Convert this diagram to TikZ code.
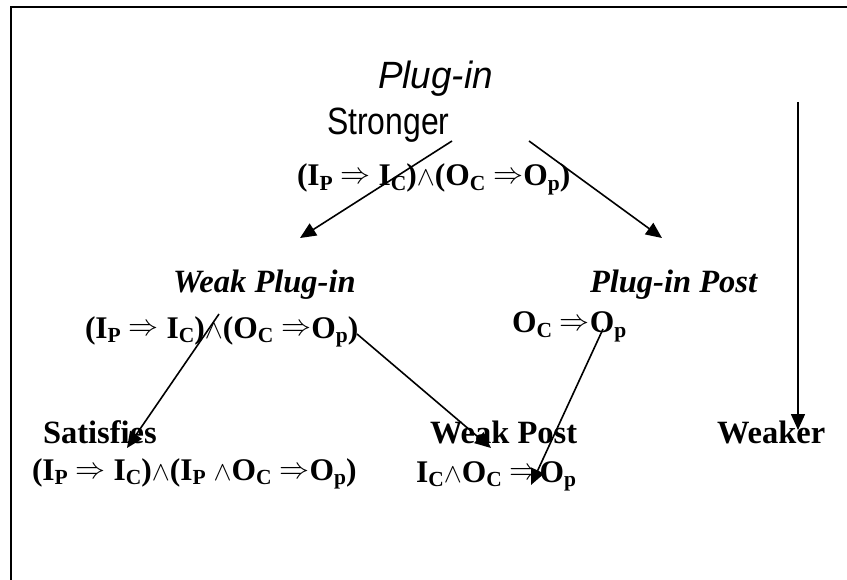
\documentclass[tikz,border=0pt]{standalone}
\usepackage{fontspec}
\setmainfont{Liberation Serif}
\newfontfamily\arialf{Liberation Sans}
\usetikzlibrary{arrows.meta}
\newcommand\sbs[1]{\raisebox{-4.5pt}{\fontsize{21.5}{21.5}\selectfont #1}}
\newcommand\imp{\raisebox{2pt}{\resizebox{30pt}{!}{$\Rightarrow$}}}
\newcommand\wdg{\resizebox{18pt}{!}{$\wedge$}}
\tikzset{
  lbl/.style={anchor=base west,inner sep=0pt,outer sep=0pt},
  formula/.style={lbl,font=\fontsize{31.5}{31.5}\selectfont\bfseries},
  bname/.style={lbl,font=\fontsize{32.5}{32.5}\selectfont\bfseries},
  biname/.style={lbl,font=\fontsize{32.5}{32.5}\selectfont\bfseries\itshape},
  sansname/.style={lbl,font=\fontsize{38}{38}\selectfont\arialf},
  conn/.style={line width=1.6pt,-{Triangle[length=16pt,width=14pt]}},
  frame/.style={line width=2pt}
}
\begin{document}
\begin{tikzpicture}[x=1pt,y=-1pt]
\useasboundingbox (0,0) rectangle (847,580);
\draw[frame] (11,580) -- (11,7) -- (847,7);

% top
\node[sansname] (plugin) at (378,89) {\itshape\scalebox{0.97}[1]{Plug-in}};
\node[sansname] (stronger) at (327,135) {\scalebox{0.84}[1]{Stronger}};
\node[formula] (f1) at (297,186) {(I\sbs{P} \imp{} I\sbs{C})\wdg(O\sbs{C} \imp O\sbs{p})};

% middle
\node[biname] (weakplugin) at (173,293) {Weak Plug-in};
\node[formula] (f2) at (85,338) {(I\sbs{P} \imp{} I\sbs{C})\wdg(O\sbs{C} \imp O\sbs{p})};
\node[biname] (pluginpost) at (590,293) {Plug-in Post};
\node[formula] (fpost) at (512,333) {O\sbs{C} \imp O\sbs{p}};

% bottom
\node[bname] (satisfies) at (43,443) {Satisfies};
\node[formula] (f3) at (32,480) {(I\sbs{P} \imp{} I\sbs{C})\wdg(I\sbs{P} \wdg O\sbs{C} \imp O\sbs{p})};
\node[bname] (weakpost) at (430,443) {Weak Post};
\node[formula] (f4) at (416,482) {I\sbs{C}\wdg O\sbs{C} \imp O\sbs{p}};
\node[bname] (weaker) at (717,443) {Weaker};

% connector end points
\coordinate (a1s) at (452,141);
\coordinate (a1e) at (300,238);
\coordinate (a2s) at (529,141);
\coordinate (a2e) at (662,238);
\coordinate (a3s) at (219,314);
\coordinate (a3e) at (127,448);
\coordinate (a4s) at (357,334);
\coordinate (a4e) at (491,448);
\coordinate (a5s) at (603,329);
\coordinate (a5e) at (531,485);
\coordinate (a6s) at (798,102);
\coordinate (a6e) at (798,430);

\draw[conn] (a1s) -- (a1e);
\draw[conn] (a2s) -- (a2e);
\draw[conn] (a3s) -- (a3e);
\draw[conn] (a4s) -- (a4e);
\draw[conn] (a5s) -- (a5e);
\draw[conn] (a6s) -- (a6e);
\end{tikzpicture}
\end{document}
